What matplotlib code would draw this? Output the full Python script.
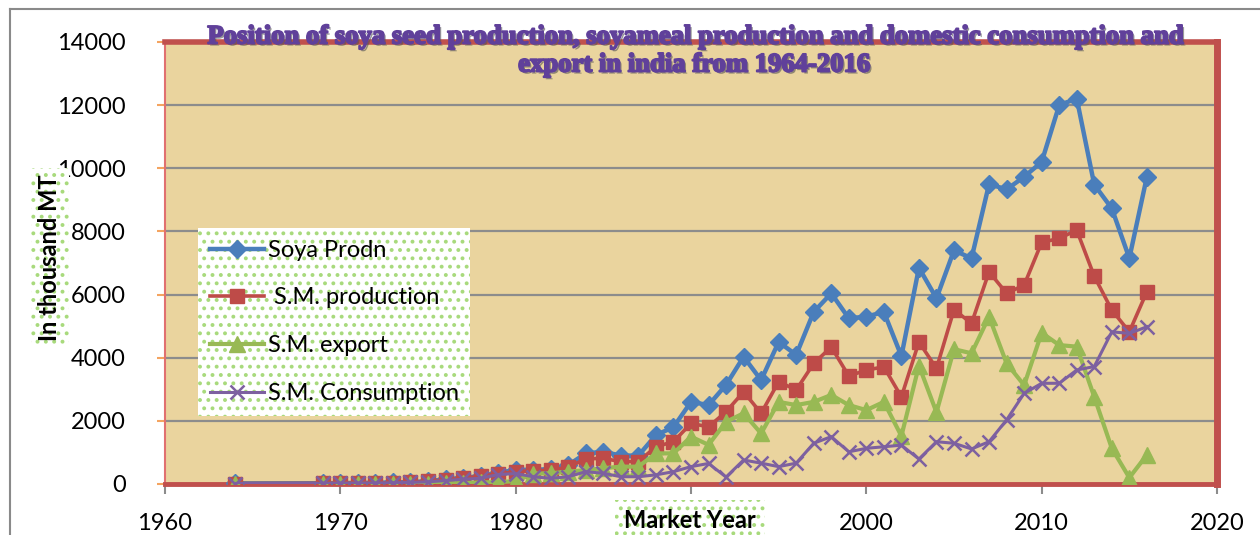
import matplotlib
matplotlib.use("Agg")
import matplotlib.pyplot as plt
import matplotlib.patheffects as pe

years = [1964, 1969, 1970, 1971, 1972, 1973, 1974, 1975, 1976, 1977, 1978, 1979,
         1980, 1981, 1982, 1983, 1984, 1985, 1986, 1987, 1988, 1989, 1990, 1991,
         1992, 1993, 1994, 1995, 1996, 1997, 1998, 1999, 2000, 2001, 2002, 2003,
         2004, 2005, 2006, 2007, 2008, 2009, 2010, 2011, 2012, 2013, 2014, 2015, 2016]

soya_prodn = [20, 25, 30, 35, 40, 50, 60, 90, 150, 200, 250, 350,
              450, 450, 470, 600, 970, 1020, 900, 900, 1550, 1800, 2600, 2500,
              3140, 4030, 3290, 4500, 4090, 5450, 6040, 5250, 5300, 5450, 4050, 6850,
              5880, 7400, 7150, 9500, 9330, 9730, 10200, 12000, 12210, 9480, 8730, 7150, 9730]

sm_production = [15, 20, 25, 28, 30, 40, 50, 80, 130, 180, 250, 320,
                 390, 420, 440, 530, 800, 810, 710, 710, 1180, 1340, 1920, 1810,
                 2290, 2920, 2240, 3240, 2980, 3820, 4340, 3420, 3610, 3710, 2760, 4500,
                 3660, 5520, 5090, 6720, 6040, 6300, 7650, 7780, 8040, 6580, 5510, 4820, 6090]

sm_export = [0, 0, 0, 0, 0, 0, 0, 10, 20, 30, 50, 60,
             90, 330, 340, 390, 440, 500, 550, 550, 970, 970, 1500, 1240,
             1970, 2240, 1600, 2600, 2500, 2600, 2820, 2500, 2340, 2600, 1520, 3750,
             2270, 4270, 4140, 5300, 3820, 3130, 4790, 4400, 4350, 2760, 1130, 200, 920]

sm_consumption = [15, 20, 25, 28, 30, 40, 50, 70, 110, 150, 180, 300,
                  330, 230, 180, 230, 390, 340, 230, 230, 290, 390, 550, 650,
                  220, 760, 660, 550, 660, 1290, 1500, 1020, 1130, 1180, 1230, 790,
                  1340, 1290, 1110, 1340, 2030, 2870, 3190, 3190, 3610, 3720, 4820, 4770, 4980]

series_names = ["Soya Prodn", " S.M. production", "S.M. export", "S.M. Consumption"]
x_ticks = [1960, 1970, 1980, 1990, 2000, 2010, 2020]
x_tick_labels = ["1960", "1970", "1980", "", "2000", "2010", "2020"]  # 1990 hidden by axis title box
y_ticks = [0, 2000, 4000, 6000, 8000, 10000, 12000, 14000]
title_line1 = "Position of soya seed production, soyameal production and domestic consumption and"
title_line2 = "export in india from 1964-2016"

W, H = 1260, 535
fig = plt.figure(figsize=(W / 100, H / 100), dpi=100)
fig.patch.set_facecolor("white")

plt.rcParams["hatch.color"] = "#A8DA7C"
plt.rcParams["hatch.linewidth"] = 1.6
DOT = ".."

# outer chart-area border (grey)
fig.add_artist(plt.Line2D([10 / W, 1], [1 - 9 / H, 1 - 9 / H], color="#8a8a8a", lw=1.5,
                          transform=fig.transFigure))
fig.add_artist(plt.Line2D([10 / W, 10 / W], [0, 1 - 9 / H], color="#8a8a8a", lw=1.5,
                          transform=fig.transFigure))

ax = fig.add_axes([165 / W, 1 - 484 / H, (1217 - 165) / W, (484 - 42) / H])
ax.set_facecolor("#EAD49E")
ax.set_xlim(1960, 2020)
ax.set_ylim(0, 14000)

ax.set_yticks(y_ticks)
ax.set_xticks(x_ticks)
ax.yaxis.grid(True, color="#8C8C8C", lw=1.6)
ax.set_axisbelow(True)

lfont = "Lato"
ax.set_yticklabels([str(v) for v in y_ticks], fontsize=17, family=lfont)
ax.set_xticklabels(x_tick_labels, fontsize=17, family=lfont)
ax.tick_params(axis="y", direction="out", length=6, width=1.5, color="#F4A460", pad=22)
ax.tick_params(axis="x", direction="out", length=7, width=1.5, color="#8C8C8C", pad=14)

for side, lw, col in [("top", 4, "#C0504D"), ("right", 5, "#C0504D"),
                      ("bottom", 3.5, "#C0504D"), ("left", 1.5, "#E07070")]:
    ax.spines[side].set_linewidth(lw)
    ax.spines[side].set_color(col)

l1, = ax.plot(years, soya_prodn, color="#4A7EBB", lw=3.2, marker="D", ms=9,
              label=series_names[0], zorder=3)
l2, = ax.plot(years, sm_production, color="#BE4B48", lw=2.6, marker="s", ms=10,
              label=series_names[1], zorder=4)
l3, = ax.plot(years, sm_export, color="#98B954", lw=3.0, marker="^", ms=11,
              label=series_names[2], zorder=5)
l4, = ax.plot(years, sm_consumption, color="#7D60A0", lw=2.2, marker="x", ms=10, mew=1.8,
              label=series_names[3], zorder=6)

leg = ax.legend(handles=[l1, l2, l3, l4], loc="upper left",
                bbox_to_anchor=((198 - 165) / (1217 - 165), (484 - 228) / (484 - 42)),
                prop={"family": lfont, "size": 17}, frameon=True, fancybox=False,
                handlelength=2.3, labelspacing=1.13, borderpad=0.5, borderaxespad=0,
                handletextpad=0.15)
fr = leg.get_frame()
fr.set_facecolor("white")
fr.set_edgecolor("#A8DA7C")
fr.set_linewidth(0)
fr.set_hatch(DOT)
fr.set_alpha(1)
leg.set_zorder(10)

# y axis label
fig.text(50 / W, 1 - 258 / H, "In thousand MT", rotation=90, ha="center", va="center",
         fontsize=17, fontweight="bold", family=lfont,
         bbox=dict(boxstyle="square,pad=0.3", fc="white", ec="#A8DA7C", lw=0, hatch=DOT))

# x axis label
fig.text(690 / W, 1 - 521 / H, "Market Year", ha="center", va="center",
         fontsize=17, fontweight="bold", family=lfont,
         bbox=dict(boxstyle="square,pad=0.4", fc="white", ec="#A8DA7C", lw=0, hatch=DOT))

# title
title_kw = dict(ha="center", va="center", color="#60409A", fontsize=19.2, fontweight="bold",
                family="Liberation Serif",
                path_effects=[pe.withSimplePatchShadow(offset=(1.5, -1.5),
                                                       shadow_rgbFace="#555555", alpha=0.6),
                              pe.withStroke(linewidth=1.4, foreground="#60409A")])
fig.text(695 / W, 1 - 37 / H, title_line1, **title_kw)
fig.text(694 / W, 1 - 65 / H, title_line2, **title_kw)

fig.savefig("out.png", dpi=100, facecolor="white")
